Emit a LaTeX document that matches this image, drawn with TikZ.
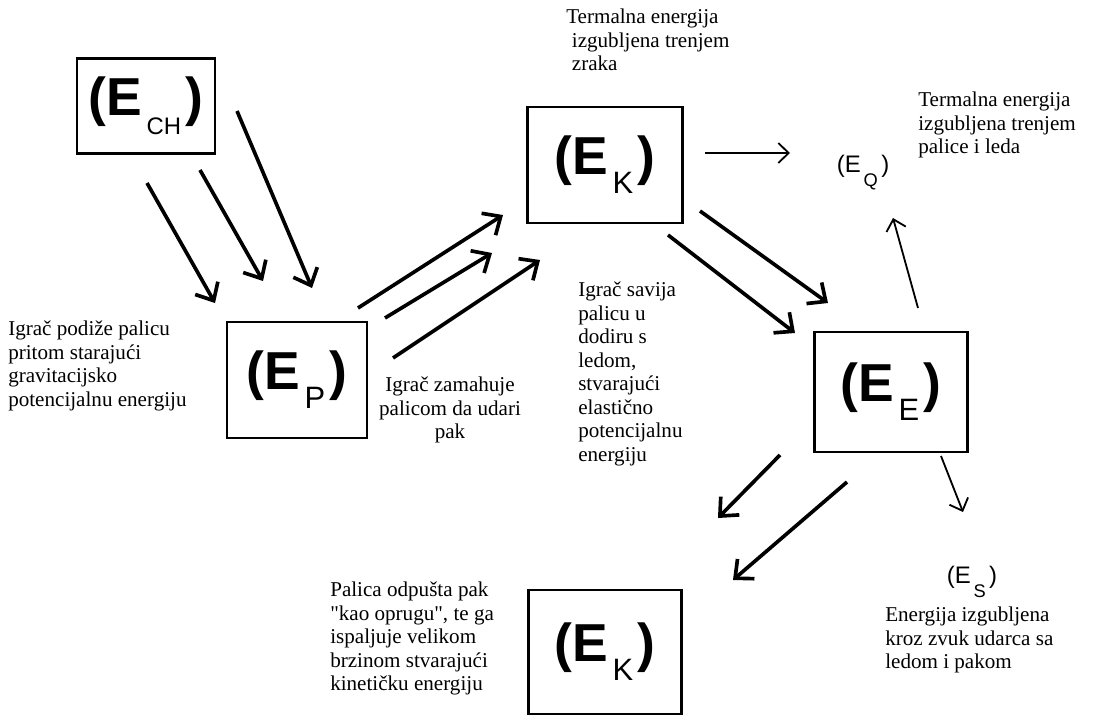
\documentclass[tikz,border=0pt]{standalone}
\usepackage{fontspec}
\setmainfont{Liberation Serif}[Ligatures=TeXOff]
\newfontfamily\lblfont{Liberation Sans}
\usetikzlibrary{arrows.meta}

% big label in a box, small label without one
\newcommand{\bigE}[2][22]{{\lblfont\fontsize{38}{40}\selectfont\bfseries (E\hspace{3pt}\raisebox{-13.5pt}{\mdseries\fontsize{#1}{#1}\selectfont #2}\hspace{3pt})}}
\newcommand{\smallE}[1]{{\lblfont\fontsize{17}{19}\selectfont (E\hspace{2pt}\raisebox{-10pt}{\fontsize{13}{13}\selectfont #1}\hspace{2.5pt})}}

\begin{document}
\begin{tikzpicture}[
            x=0.025cm, y=-0.025cm,
            box/.style={draw, line width=2pt, inner sep=0pt},
            note/.style={anchor=north west, inner sep=0pt, align=left, font=\fontsize{15}{16.7}\selectfont},
            push/.style={line width=2.6pt, -{Straight Barb[length=3.6mm, width=6.5mm]}},
            flow/.style={line width=1.3pt, -{Straight Barb[length=2.6mm, width=5mm]}}
        ]
        \useasboundingbox (0,0) rectangle (1093,722);

        \node[box, minimum width=3.45cm, minimum height=2.38cm] (ech) at (146,106) {\bigE[17]{CH}};
        \node[box, minimum width=3.5cm, minimum height=2.9cm] (ep) at (297,380) {\bigE{P}};
        \node[box, minimum width=3.88cm, minimum height=2.9cm] (ektop) at (605,165) {\bigE{K}};
        \node[box, minimum width=3.83cm, minimum height=3cm] (ee) at (891,392) {\bigE{E}};
        \node[box, minimum width=3.83cm, minimum height=3.1cm] (ekbot) at (605,652) {\bigE{K}};
        \node (eq) at (863,173) {\smallE{Q}};
        \node (es) at (972,582) {\smallE{S}};

        \node[note] (lift) at (8,321) {Igrač podiže palicu\\pritom starajući\\gravitacijsko\\potencijalnu energiju};
        \node[note, anchor=north, align=center] (swing) at (450,377) {Igrač zamahuje\\palicom da udari\\pak};
        \node[note] (air) at (566,9) {Termalna energija\\\hspace{4pt}izgubljena trenjem\\\hspace{4pt}zraka};
        \node[note] (ice) at (918,92) {Termalna energija\\izgubljena trenjem\\palice i leda};
        \node[note] (bend) at (578,282) {Igrač savija\\palicu u\\dodiru s\\ledom,\\stvarajući\\elastično\\potencijalnu\\energiju};
        \node[note] (shot) at (330,582) {Palica odpušta pak\\"kao oprugu", te ga\\ispaljuje velikom\\brzinom stvarajući\\kinetičku energiju};
        \node[note] (sound) at (885,607) {Energija izgubljena\\kroz zvuk udarca sa\\ledom i pakom};

        % free ends of the strokes
        \coordinate (ch1a) at (147,183); \coordinate (ch1b) at (215,303);
        \coordinate (ch2a) at (200,170); \coordinate (ch2b) at (263,281);
        \coordinate (ch3a) at (237,111); \coordinate (ch3b) at (312,288);
        \coordinate (p1a) at (358,308); \coordinate (p1b) at (503,215);
        \coordinate (p2a) at (385,318); \coordinate (p2b) at (492,253);
        \coordinate (p3a) at (393,358); \coordinate (p3b) at (540,260);
        \coordinate (k1a) at (700,211); \coordinate (k1b) at (828,303);
        \coordinate (k2a) at (668,235); \coordinate (k2b) at (795,333);
        \coordinate (e1a) at (780,455); \coordinate (e1b) at (718,518);
        \coordinate (e2a) at (847,482); \coordinate (e2b) at (733,580);
        \coordinate (qa) at (705,153); \coordinate (qb) at (790,153);
        \coordinate (ua) at (918,308); \coordinate (ub) at (893,218);
        \coordinate (sa) at (941,456); \coordinate (sb) at (963,512);

        \draw[push] (ch1a) -- (ch1b);
        \draw[push] (ch2a) -- (ch2b);
        \draw[push] (ch3a) -- (ch3b);
        \draw[push] (p1a) -- (p1b);
        \draw[push] (p2a) -- (p2b);
        \draw[push] (p3a) -- (p3b);
        \draw[push] (k1a) -- (k1b);
        \draw[push] (k2a) -- (k2b);
        \draw[push] (e1a) -- (e1b);
        \draw[push] (e2a) -- (e2b);
        \draw[flow] (qa) -- (qb);
        \draw[flow] (ua) -- (ub);
        \draw[flow] (sa) -- (sb);

    \end{tikzpicture}
\end{document}
